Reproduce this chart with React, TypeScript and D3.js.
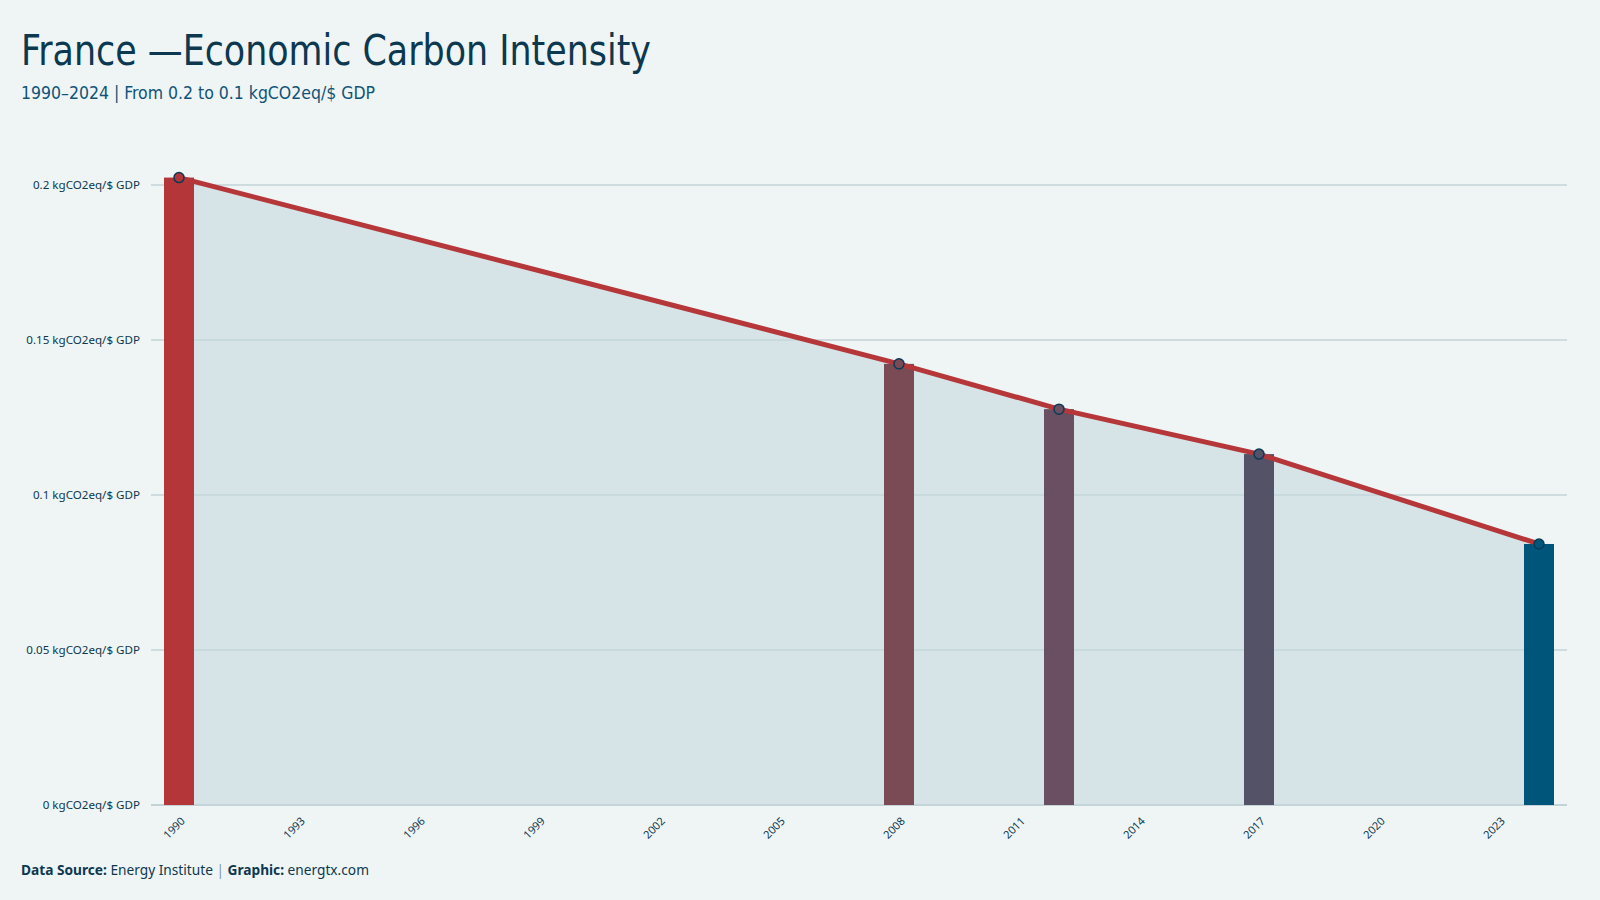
import React, { useEffect, useRef } from "react";
import * as d3 from "d3";

// Carbon intensity of the French economy, kgCO2eq per $ of GDP
const years = [1990, 2008, 2012, 2017, 2024];
const intensity = [0.2024, 0.1423, 0.1277, 0.1132, 0.0842];
const barColors = ["#b43638", "#7a4a55", "#694f61", "#535267", "#00557a"];

const allYears = d3.range(1990, 2025);
const xTickYears = [1990, 1993, 1996, 1999, 2002, 2005, 2008, 2011, 2014, 2017, 2020, 2023];
const yTicks = [0, 0.05, 0.1, 0.15, 0.2];

const title = "France \u2014Economic Carbon Intensity";
const subtitle = "1990\u20132024 | From 0.2 to 0.1 kgCO2eq/$ GDP";

const W = 1600;
const H = 900;
const BG = "#eff5f5";
const NAVY = "#0c3850";
const condensed = "'Liberation Sans Narrow', 'DejaVu Sans Condensed', 'Roboto', sans-serif";
const sans = "'Noto Sans', 'DejaVu Sans', sans-serif";

const App = () => {
  const svgRef = useRef<SVGSVGElement>(null);

  useEffect(() => {
    const svg = d3.select(svgRef.current);
    svg.selectAll("*").remove();

    const rows = years.map((year, i) => ({ year, value: intensity[i], color: barColors[i] }));

    const x = d3.scaleBand<number>()
      .domain(allYears)
      .range([151, 1567])
      .paddingInner(0.25)
      .paddingOuter(0.325);
    const cx = (yr: number) => (x(yr) as number) + x.bandwidth() / 2;

    const y = d3.scaleLinear().domain([0, 0.2]).range([805, 185]);

    svg.append("rect").attr("width", W).attr("height", H).attr("fill", BG);

    // Gridlines + y labels
    const grid = svg.append("g");
    yTicks.forEach(t => {
      grid.append("line")
        .attr("x1", 151).attr("x2", 1567)
        .attr("y1", y(t)).attr("y2", y(t))
        .attr("stroke", "#c4d3d7")
        .attr("stroke-width", t === 0 ? 2 : 1.3);
      grid.append("text")
        .attr("x", 140)
        .attr("y", y(t))
        .attr("dy", "0.35em")
        .attr("text-anchor", "end")
        .style("font-family", sans)
        .style("font-size", "11.6px")
        .attr("fill", NAVY)
        .text(`${d3.format("~g")(t)} kgCO2eq/$ GDP`);
    });

    // Shaded area under the trend
    const area = d3.area<{ year: number; value: number }>()
      .x(d => cx(d.year))
      .y0(y(0))
      .y1(d => y(d.value));
    svg.append("path")
      .datum(rows)
      .attr("d", area)
      .attr("fill", "#c5d8de")
      .attr("fill-opacity", 0.6);

    // Bars for the highlighted years
    svg.append("g")
      .selectAll("rect")
      .data(rows)
      .join("rect")
      .attr("x", d => x(d.year) as number)
      .attr("width", x.bandwidth())
      .attr("y", d => y(d.value))
      .attr("height", d => y(0) - y(d.value))
      .attr("fill", d => d.color);

    // Trend line
    const line = d3.line<{ year: number; value: number }>()
      .x(d => cx(d.year))
      .y(d => y(d.value));
    svg.append("path")
      .datum(rows)
      .attr("d", line)
      .attr("fill", "none")
      .attr("stroke", "#b5373a")
      .attr("stroke-width", 5);

    svg.append("g")
      .selectAll("circle")
      .data(rows)
      .join("circle")
      .attr("cx", d => cx(d.year))
      .attr("cy", d => y(d.value))
      .attr("r", 5)
      .attr("fill", d => d.color)
      .attr("stroke", "#0b3a55")
      .attr("stroke-width", 1.5);

    // X axis labels, rotated
    svg.append("g")
      .selectAll("text")
      .data(xTickYears)
      .join("text")
      .attr("transform", d => `translate(${cx(d) + 4},${819}) rotate(-45)`)
      .attr("text-anchor", "end")
      .attr("dy", "0.35em")
      .style("font-family", sans)
      .style("font-size", "11px")
      .attr("fill", NAVY)
      .text(d => d);

    // Titles
    svg.append("text")
      .attr("x", 21)
      .attr("y", 65)
      .attr("textLength", 630)
      .attr("lengthAdjust", "spacingAndGlyphs")
      .style("font-family", condensed)
      .style("font-size", "43px")
      .attr("fill", NAVY)
      .text(title);

    svg.append("text")
      .attr("x", 21)
      .attr("y", 99)
      .attr("textLength", 354)
      .attr("lengthAdjust", "spacingAndGlyphs")
      .style("font-family", condensed)
      .style("font-size", "18px")
      .attr("fill", "#0f5478")
      .text(subtitle);

    // Footer
    const foot = svg.append("text")
      .attr("x", 21)
      .attr("y", 875)
      .style("font-family", sans)
      .style("font-size", "13.7px")
      .attr("fill", NAVY);
    foot.append("tspan").style("font-weight", "bold").text("Data Source: ");
    foot.append("tspan").text("Energy Institute ");
    foot.append("tspan").attr("fill", "#7d98a8").text("| ");
    foot.append("tspan").style("font-weight", "bold").text("Graphic: ");
    foot.append("tspan").text("energtx.com");
  }, []);

  return (
    <div style={{ position: "absolute", left: 0, top: 0, width: W, height: H, background: BG }}>
      <svg ref={svgRef} width={W} height={H} style={{ display: "block" }}></svg>
    </div>
  );
};

export default App;
